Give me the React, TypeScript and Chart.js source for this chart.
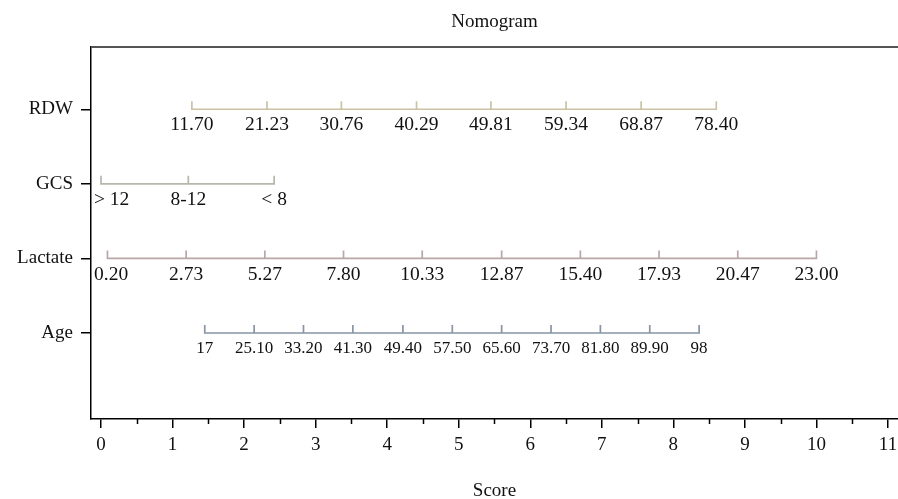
import React, { useEffect, useRef } from 'react';
import { Chart, registerables } from 'chart.js';

Chart.register(...registerables);

const TITLE = 'Nomogram';
const X_TITLE = 'Score';

const rowNames = ['RDW', 'GCS', 'Lactate', 'Age'];
const rowPositions = [4, 3, 2, 1];

const rdwLabels = ['11.70', '21.23', '30.76', '40.29', '49.81', '59.34', '68.87', '78.40'];
const rdwScores = [1.27, 2.32, 3.36, 4.41, 5.45, 6.5, 7.55, 8.6];

const gcsLabels = ['> 12', '8-12', '< 8'];
const gcsScores = [0, 1.22, 2.42];

const lactateLabels = ['0.20', '2.73', '5.27', '7.80', '10.33', '12.87', '15.40', '17.93', '20.47', '23.00'];
const lactateScores = [0.09, 1.19, 2.29, 3.39, 4.49, 5.6, 6.7, 7.8, 8.9, 10.0];

const ageLabels = ['17', '25.10', '33.20', '41.30', '49.40', '57.50', '65.60', '73.70', '81.80', '89.90', '98'];
const ageScores = [1.45, 2.14, 2.83, 3.52, 4.22, 4.91, 5.6, 6.29, 6.98, 7.67, 8.36];

const scoreTicks = [0, 1, 2, 3, 4, 5, 6, 7, 8, 9, 10, 11];

const rowLabelSets = [rdwLabels, gcsLabels, lactateLabels, ageLabels];
const rowScoreSets = [rdwScores, gcsScores, lactateScores, ageScores];
const rowColors = ['#cbc2a4', '#b6b6aa', '#b9a7a7', '#8795a5'];
const rowFontSizes = [19.5, 19.5, 19.5, 17];

const FONT = "'Liberation Serif', 'DejaVu Serif', serif";
const TICK_H = 0.107;

function buildRowData(scores: number[], y: number) {
  const pts: { x: number; y: number }[] = [];
  scores.forEach((s) => {
    pts.push({ x: s, y });
    pts.push({ x: s, y: y + TICK_H });
    pts.push({ x: s, y });
  });
  return pts;
}

const overlayPlugin = {
  id: 'nomoOverlay',
  afterDraw(chart: any) {
    const { ctx, chartArea, scales } = chart;
    const xs = scales.x;
    const ys = scales.y;
    ctx.save();
    // top border
    ctx.strokeStyle = '#555555';
    ctx.lineWidth = 2;
    ctx.beginPath();
    ctx.moveTo(chartArea.left, chartArea.top);
    ctx.lineTo(chartArea.right, chartArea.top);
    ctx.stroke();
    // minor ticks
    ctx.strokeStyle = '#000';
    ctx.lineWidth = 1.5;
    for (let i = 0; i < scoreTicks.length - 1; i++) {
      const v = (scoreTicks[i] + scoreTicks[i + 1]) / 2;
      const px = Math.round(xs.getPixelForValue(v)) + 0.5;
      ctx.beginPath();
      ctx.moveTo(px, chartArea.bottom);
      ctx.lineTo(px, chartArea.bottom + 5);
      ctx.stroke();
    }
    // row labels
    ctx.fillStyle = '#111';
    ctx.textBaseline = 'middle';
    ctx.textAlign = 'center';
    rowLabelSets.forEach((labels, r) => {
      const scores = rowScoreSets[r];
      ctx.font = `${rowFontSizes[r]}px ${FONT}`;
      const py = ys.getPixelForValue(rowPositions[r]) + 16;
      labels.forEach((lab, i) => {
        let px = xs.getPixelForValue(scores[i]);
        const w = ctx.measureText(lab).width;
        if (px - w / 2 < chartArea.left + 3) px = chartArea.left + 3 + w / 2;
        ctx.fillText(lab, px, py);
      });
    });
    // titles
    ctx.font = `19px ${FONT}`;
    ctx.fillText(TITLE, (chartArea.left + chartArea.right) / 2, 22);
    ctx.fillText(X_TITLE, (chartArea.left + chartArea.right) / 2, 491);
    ctx.restore();
  },
};

export default function App() {
  const ref = useRef<HTMLCanvasElement>(null);
  useEffect(() => {
    document.body.style.margin = '0';
    const canvas = ref.current!;
    const datasets = rowScoreSets.map((scores, r) => ({
      data: buildRowData(scores, rowPositions[r]),
      borderColor: rowColors[r],
      borderWidth: 1.7,
      pointRadius: 0,
      showLine: true,
      fill: false,
      tension: 0,
    }));
    const chart = new Chart(canvas, {
      type: 'scatter',
      data: { datasets },
      plugins: [overlayPlugin],
      options: {
        animation: false,
        responsive: false,
        devicePixelRatio: 1,
        layout: { padding: { top: 47, left: 0, right: 0, bottom: 0 } },
        plugins: { legend: { display: false }, tooltip: { enabled: false }, title: { display: false } },
        scales: {
          x: {
            type: 'linear',
            min: -0.14,
            max: 11.14,
            afterBuildTicks: (scale: any) => {
              scale.ticks = scoreTicks.map((v) => ({ value: v }));
            },
            afterFit: (scale: any) => {
              scale.height = 80;
              scale.paddingLeft = 0;
              scale.paddingRight = 0;
            },
            ticks: {
              autoSkip: false,
              maxRotation: 0,
              padding: 6,
              color: '#111',
              font: { family: FONT, size: 19 },
              callback: (v: any) => String(v),
            },
            grid: { drawOnChartArea: false, drawTicks: true, tickLength: 9, color: '#000', lineWidth: 1.5 },
            border: { display: true, color: '#000', width: 1.5 },
          },
          y: {
            type: 'linear',
            min: -0.153,
            max: 4.835,
            afterBuildTicks: (scale: any) => {
              scale.ticks = rowPositions.map((v) => ({ value: v }));
            },
            afterFit: (scale: any) => {
              scale.width = 91;
              scale.paddingTop = 0;
              scale.paddingBottom = 0;
            },
            ticks: {
              autoSkip: false,
              padding: 8,
              color: '#111',
              font: { family: FONT, size: 19 },
              callback: (v: any) => rowNames[rowPositions.indexOf(Number(v))] ?? '',
            },
            grid: { drawOnChartArea: false, drawTicks: true, tickLength: 10, color: '#000', lineWidth: 1.5 },
            border: { display: true, color: '#000', width: 1.5 },
          },
        },
      } as any,
    });
    return () => chart.destroy();
  }, []);
  return <canvas ref={ref} width={898} height={499} style={{ display: 'block' }} />;
}
